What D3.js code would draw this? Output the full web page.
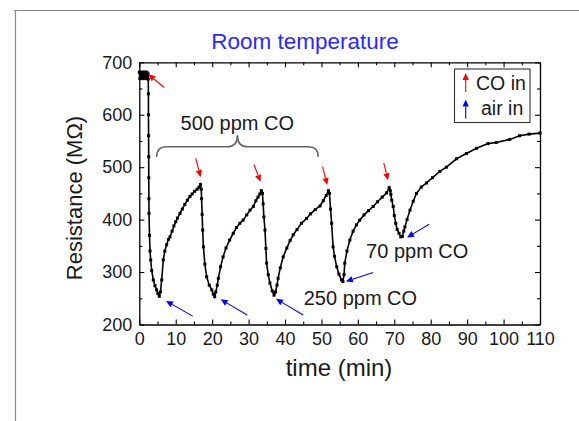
<!DOCTYPE html>
<html>
<head>
<meta charset="utf-8">
<script src="https://cdn.jsdelivr.net/npm/d3@7"></script>
<style>
  html, body { margin: 0; padding: 0; background: #fff; }
  svg { display: block; font-family: "Liberation Sans", Arial, sans-serif; }
</style>
</head>
<body>
<svg id="chart" width="579" height="421"></svg>
<script>
// ---------------- data ----------------
const chartTitle = "Room temperature";
const xLabel = "time (min)";
const yLabel = "Resistance (MΩ)";
const xTicks = [0, 10, 20, 30, 40, 50, 60, 70, 80, 90, 100, 110];
const yTicks = [200, 300, 400, 500, 600, 700];

// time (min)
const time = [
  0, 0.15, 0.3, 0.45, 0.6, 0.75, 0.9, 1.05, 1.2, 1.35, 1.5, 1.65, 1.8, 1.95, 2.1, 2.25, 2.4,
  2.45, 2.5, 2.52, 2.55, 2.58, 2.6, 2.63, 2.66, 2.8, 2.95, 3.13, 3.4, 3.84, 4.3, 4.77, 5.1, 5.49,
  5.8, 6.15, 6.58, 7.0, 7.5, 8.0, 8.42, 9.0, 9.5, 10.0, 10.5, 11.17, 11.8, 12.5, 13.2, 13.9, 14.5, 15.2, 15.9, 16.4, 16.8,
  17.0, 17.1, 17.25, 17.4, 17.6, 18.0, 18.5, 19.2, 19.9, 20.3, 20.7,
  21.0, 21.4, 21.7, 22.3, 23.0, 23.8, 24.8, 25.8, 26.7, 27.6, 28.5, 29.5, 30.4, 31.3, 32.0, 32.6, 33.1, 33.5,
  33.8, 34.0, 34.2, 34.5, 34.75, 34.95, 35.4, 35.86, 36.5, 37.0,
  37.4, 37.8, 38.1, 38.7, 39.5, 40.5, 41.4, 42.25, 43.3, 44.5, 45.9, 47.0, 48.3, 49.6, 50.5, 51.3, 51.9,
  52.2, 52.5, 52.8, 53.2, 53.6, 54.2, 54.8, 55.5, 55.9,
  56.2, 56.4, 57.0, 57.8, 58.7, 59.6, 60.5, 61.7, 62.9, 64.2, 65.4, 66.7, 67.9, 68.6,
  68.9, 69.05, 69.3, 69.7, 70.0, 70.4, 70.8, 71.3, 71.8, 72.2,
  72.6, 72.9, 73.5, 74.3, 75.2, 76.1, 77.4, 78.85, 80.5, 82.5, 84.3, 87.1, 89.8, 92.6, 95.7, 98, 101.7, 104.4, 107, 110
];
// resistance (MOhm)
const resistance = [
  681, 669, 681, 669, 681, 669, 681, 669, 681, 669, 681, 669, 681, 669, 681, 669, 678,
  668, 640, 600, 560, 520, 480, 440, 412, 370, 340, 323, 303, 285, 274, 266, 259, 254,
  262, 285, 323, 340, 352, 362, 367, 378, 388, 396, 403, 412, 420, 429, 437, 444, 449, 454, 458, 462, 467,
  458, 440, 410, 380, 348, 315, 291, 275, 266, 258, 253,
  262, 275, 288, 310, 329, 346, 361, 374, 385, 393, 399, 409, 418, 425, 436, 443, 449, 455,
  450, 430, 405, 380, 345, 317, 295, 279, 264, 256,
  262, 275, 288, 308, 329, 346, 360, 371, 381, 393, 402, 411, 419, 426, 436, 446, 455,
  450, 420, 393, 348, 330, 310, 296, 285, 282,
  295, 317, 340, 361, 378, 390, 399, 409, 417, 425, 434, 443, 451, 461,
  455, 448, 437, 425, 408, 393, 381, 374, 367, 368,
  378, 386, 400, 418, 435, 450, 462, 470, 480, 492, 500, 516, 526, 536, 545, 547, 553, 560, 563, 565
];

// CO-in arrows (red): [tailTime, tailR, headTime, headR]
const coArrows = [
  [6.86, 652, 2.47, 677],
  [15.47, 517, 16.85, 481],
  [31.47, 505, 33.3, 472],
  [50.3, 501, 51.6, 466],
  [67.1, 508, 68.3, 475]
];
// air-in arrows (blue)
const airArrows = [
  [14.65, 216, 7.33, 245],
  [29.63, 218, 22.33, 248],
  [45.0, 218, 37.5, 249],
  [64.2, 299, 56.7, 282],
  [79.56, 391, 73.5, 366]
];
// annotations: [text, time, resistance at baseline]
const notes = [
  ["500 ppm CO", 26.9, 570],
  ["250 ppm CO", 60.7, 237],
  ["70 ppm CO", 76.3, 327]
];
// brace spanning the 500 ppm cycles: [startTime, endTime, tipR, barR, peakR]
const brace = [4.77, 49.1, 520, 539, 561];
const legendItems = [["CO in", "#ff0000"], ["air in", "#0000ff"]];

// ---------------- drawing ----------------
const svg = d3.select("#chart");
const x = d3.scaleLinear().domain([0, 110]).range([139.3, 540]);
const y = d3.scaleLinear().domain([200, 700]).range([324.5, 62.3]);

// outer image frame
svg.append("line").attr("x1", 14).attr("x2", 579).attr("y1", 10.5).attr("y2", 10.5)
  .attr("stroke", "#8a8a8a").attr("stroke-width", 1.2);
svg.append("line").attr("x1", 15.5).attr("x2", 15.5).attr("y1", 10).attr("y2", 421)
  .attr("stroke", "#8a8a8a").attr("stroke-width", 1.2);

// title
svg.append("text").attr("x", 305).attr("y", 48.5).attr("text-anchor", "middle")
  .attr("font-size", 22.5).attr("fill", "#2a2aff").text(chartTitle);

function styleAxis(g) {
  g.selectAll("path.domain").attr("stroke", "#000").attr("stroke-width", 1.3);
  g.selectAll(".tick line").attr("stroke", "#000").attr("stroke-width", 1.1);
  g.selectAll(".tick text").attr("fill", "#1a1a1a").attr("font-size", 18)
    .attr("font-family", "Liberation Sans, Arial, sans-serif");
}
const minorX = d3.range(5, 110, 10);
const minorY = d3.range(250, 700, 100);

// bottom
svg.append("g").attr("transform", `translate(0,${y(200)})`)
  .call(d3.axisBottom(x).tickValues(xTicks).tickSize(-5).tickSizeOuter(0).tickPadding(8))
  .call(styleAxis);
svg.append("g").attr("transform", `translate(0,${y(200)})`)
  .call(d3.axisBottom(x).tickValues(minorX).tickSize(-3).tickFormat(""))
  .call(g => g.select("path.domain").remove()).call(styleAxis);
// top
svg.append("g").attr("transform", `translate(0,${y(700)})`)
  .call(d3.axisTop(x).tickValues(xTicks).tickSize(-5).tickSizeOuter(0).tickFormat(""))
  .call(styleAxis);
svg.append("g").attr("transform", `translate(0,${y(700)})`)
  .call(d3.axisTop(x).tickValues(minorX).tickSize(-3).tickFormat(""))
  .call(g => g.select("path.domain").remove()).call(styleAxis);
// left
svg.append("g").attr("transform", `translate(${x(0)},0)`)
  .call(d3.axisLeft(y).tickValues(yTicks).tickSize(-5).tickSizeOuter(0).tickPadding(7))
  .call(styleAxis);
svg.append("g").attr("transform", `translate(${x(0)},0)`)
  .call(d3.axisLeft(y).tickValues(minorY).tickSize(-3).tickFormat(""))
  .call(g => g.select("path.domain").remove()).call(styleAxis);
// right
svg.append("g").attr("transform", `translate(${x(110)},0)`)
  .call(d3.axisRight(y).tickValues(yTicks).tickSize(-5).tickSizeOuter(0).tickFormat(""))
  .call(styleAxis);
svg.append("g").attr("transform", `translate(${x(110)},0)`)
  .call(d3.axisRight(y).tickValues(minorY).tickSize(-3).tickFormat(""))
  .call(g => g.select("path.domain").remove()).call(styleAxis);

// axis titles
svg.append("text").attr("x", 339).attr("y", 376).attr("text-anchor", "middle")
  .attr("font-size", 24).attr("fill", "#1a1a1a").text(xLabel);
svg.append("text").attr("transform", "translate(82,198) rotate(-90)").attr("text-anchor", "middle")
  .attr("font-size", 22).attr("fill", "#1a1a1a").text(yLabel);

// data line + markers
const pts = time.map((t, i) => [t, resistance[i]]);
svg.append("path").datum(pts)
  .attr("d", d3.line().x(d => x(d[0])).y(d => y(d[1])))
  .attr("fill", "none").attr("stroke", "#000").attr("stroke-width", 1.6);
svg.append("g").selectAll("rect").data(pts).join("rect")
  .attr("x", d => x(d[0]) - 1.5).attr("y", d => y(d[1]) - 1.5)
  .attr("width", 3).attr("height", 3).attr("fill", "#000");

// arrows
function arrow(x1, y1, x2, y2, color) {
  const ang = Math.atan2(y2 - y1, x2 - x1);
  const L = 7, W = 3.2;
  const bx = x2 - L * Math.cos(ang), by = y2 - L * Math.sin(ang);
  svg.append("line").attr("x1", x1).attr("y1", y1).attr("x2", bx).attr("y2", by)
    .attr("stroke", color).attr("stroke-width", 1.1);
  const p = [
    [x2, y2],
    [bx + W * Math.sin(ang), by - W * Math.cos(ang)],
    [bx - W * Math.sin(ang), by + W * Math.cos(ang)]
  ];
  svg.append("path").attr("d", "M" + p.map(q => q.join(",")).join("L") + "Z").attr("fill", color);
}
coArrows.forEach(a => arrow(x(a[0]), y(a[1]), x(a[2]), y(a[3]), "#ff0000"));
airArrows.forEach(a => arrow(x(a[0]), y(a[1]), x(a[2]), y(a[3]), "#0000ff"));

// annotations
notes.forEach(n => {
  svg.append("text").attr("x", x(n[1])).attr("y", y(n[2])).attr("text-anchor", "middle")
    .attr("font-size", 20).attr("fill", "#1a1a1a").text(n[0]);
});

// brace
{
  const x1 = x(brace[0]), x2 = x(brace[1]), xc = (x1 + x2) / 2;
  const yt = y(brace[2]), yb = y(brace[3]), yp = y(brace[4]);
  const r = 10;
  const d = `M${x1},${yt} Q${x1},${yb} ${x1 + r},${yb} L${xc - r},${yb} Q${xc},${yb} ${xc},${yp}
             Q${xc},${yb} ${xc + r},${yb} L${x2 - r},${yb} Q${x2},${yb} ${x2},${yt}`;
  svg.append("path").attr("d", d).attr("fill", "none").attr("stroke", "#666").attr("stroke-width", 1.6);
}

// legend
{
  const lx = 454.5, ly = 69, lw = 75.5, lh = 53.5;
  svg.append("rect").attr("x", lx).attr("y", ly).attr("width", lw).attr("height", lh)
    .attr("fill", "#fff").attr("stroke", "#333").attr("stroke-width", 1.1);
  legendItems.forEach((it, i) => {
    const ax = 465.7, top = ly + 4 + i * 26.5, bot = top + 19;
    arrow(ax, bot, ax, top, it[1]);
    svg.append("text").attr("x", i === 0 ? 476 : 481).attr("y", ly + 21 + i * 25)
      .attr("font-size", 19.5).attr("fill", "#1a1a1a").text(it[0]);
  });
}
</script>
</body>
</html>
